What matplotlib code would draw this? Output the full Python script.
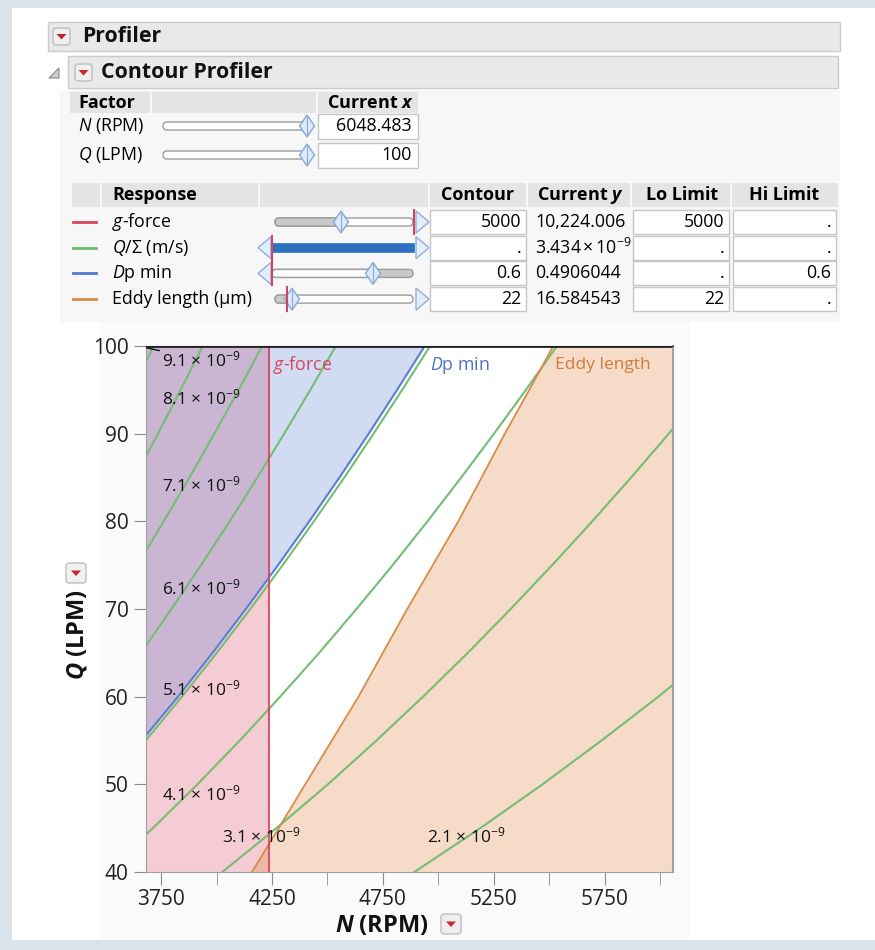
import matplotlib
matplotlib.use("Agg")
import matplotlib.pyplot as plt
from matplotlib.patches import Rectangle, Polygon, FancyBboxPatch

plt.rcParams['font.family'] = ['Open Sans', 'DejaVu Sans']
plt.rcParams['mathtext.fontset'] = 'custom'
plt.rcParams['mathtext.rm'] = 'Open Sans'
plt.rcParams['mathtext.it'] = 'Open Sans:italic'
plt.rcParams['mathtext.bf'] = 'Open Sans:bold'
plt.rcParams['mathtext.bfit'] = 'Open Sans:italic:bold'

# ---- data ----
n_range = [3682, 6058]          # N (RPM) axis range
q_range = [40, 100]             # Q (LPM) axis range
current_q = 100

# Q/Sigma contours: N position at each Q of q_grid
q_grid = [40, 45, 50, 55, 60, 65, 70, 75, 80, 85, 90, 95, 100]
qs_labels = ["2.1", "3.1", "4.1", "5.1", "6.1", "7.1", "8.1", "9.1"]
qs_n = [
    [4892, 5189, 5470, 5736, 5992, 6236, 6472, 6699, 6918, 7131, 7338, 7539, 7735],
    [4026, 4270, 4502, 4721, 4931, 5133, 5326, 5513, 5694, 5869, 6039, 6205, 6366],
    [3501, 3713, 3914, 4105, 4287, 4463, 4631, 4794, 4951, 5103, 5251, 5395, 5535],
    [3139, 3329, 3509, 3681, 3844, 4001, 4152, 4298, 4439, 4576, 4708, 4837, 4963],
    [2870, 3044, 3209, 3365, 3515, 3659, 3797, 3930, 4059, 4184, 4305, 4423, 4538],
    [2660, 2821, 2974, 3119, 3258, 3391, 3519, 3643, 3762, 3878, 3990, 4100, 4206],
    [2491, 2642, 2785, 2921, 3050, 3175, 3295, 3410, 3522, 3631, 3736, 3838, 3938],
    [2350, 2493, 2628, 2756, 2878, 2996, 3109, 3218, 3324, 3426, 3525, 3622, 3716],
]
# where each contour label sits (N, Q)
qs_label_n = [4950, 4025, 3752, 3752, 3752, 3752, 3752, 3755]
qs_label_q = [44.0, 44.0, 48.9, 60.8, 72.4, 84.1, 94.0, 98.4]

gforce_n = 4235                                          # g-force = 5000 contour
dp_n = [3124, 3313, 3492, 3663, 3826, 3982, 4132, 4277, 4418, 4554, 4686, 4814, 4939]   # Dp min = 0.6
eddy_n = [4160, 4280, 4400, 4520, 4640, 4750, 4860, 4975, 5090, 5195, 5300, 5410, 5518]  # Eddy = 22

x_major = [3750, 4250, 4750, 5250, 5750]
x_minor = [4000, 4500, 5000, 5500, 6000]
y_ticks = [40, 50, 60, 70, 80, 90, 100]

factors = [r"$\mathit{N}$ (RPM)", r"$\mathit{Q}$ (LPM)"]
factor_vals = ["6048.483", "100"]

responses = [r"$\mathit{g}$-force", r"$\mathit{Q/Σ}$ (m/s)", r"$\mathit{D}$p min", "Eddy length (µm)"]
resp_colors = ['#d6455e', '#6dbb6d', '#5577cc', '#d98a45']
resp_contour = ["5000", ".", "0.6", "22"]
resp_current = ["10,224.006", r"$3.434\,{\times}\,10^{-9}$", "0.4906044", "16.584543"]
resp_lo = ["5000", ".", ".", "22"]
resp_hi = [".", ".", "0.6", "."]

# ---- figure and UI layer (pixel coords) ----
fig = plt.figure(figsize=(8.75, 9.5), dpi=100, facecolor='#dae3ea')
ui = fig.add_axes([0, 0, 1, 1])
ui.set_xlim(0, 875)
ui.set_ylim(950, 0)
ui.axis('off')
ui.set_zorder(0)

FS = 12.8   # table text size


def box(x0, y0, x1, y1, fc, ec='none', lw=1.0):
    ui.add_patch(Rectangle((x0, y0), x1 - x0, y1 - y0, fc=fc, ec=ec, lw=lw))


def dropdown(x, y, s=17):
    ui.add_patch(FancyBboxPatch((x, y), s, s, boxstyle='round,pad=0,rounding_size=3',
                                fc='#f0f0f0', ec='#b8b8b8', lw=0.9))
    c = s / 2
    ui.add_patch(Polygon([(x + c - 5, y + c - 2.5), (x + c + 5, y + c - 2.5), (x + c, y + c + 3)],
                         closed=True, fc='#d0212f', ec='none'))


def track(x0, x1, yc, fc='white', h=8):
    ui.add_patch(FancyBboxPatch((x0, yc - h / 2), x1 - x0, h,
                                boxstyle='round,pad=0,rounding_size=%g' % (h / 2),
                                fc=fc, ec='#9c9c9c', lw=1))


def diamond(xc, yc, w=15, h=22):
    ui.add_patch(Polygon([(xc - w / 2, yc), (xc, yc - h / 2), (xc + w / 2, yc), (xc, yc + h / 2)],
                         closed=True, fc='#dce9f8', ec='#86a9d8', lw=1))
    ui.plot([xc, xc], [yc - h / 2 + 2, yc + h / 2 - 2], color='#86a9d8', lw=0.8)


def arrow(x, yc, left):
    if left:
        pts = [(x + 13, yc - 11), (x, yc), (x + 13, yc + 11)]
    else:
        pts = [(x, yc - 11), (x + 13, yc), (x, yc + 11)]
    ui.add_patch(Polygon(pts, closed=True, fc='#e3eefa', ec='#8fb0da', lw=1))


def red_tick(x, yc):
    ui.plot([x, x], [yc - 12, yc + 12], color='#d6455e', lw=1.5)


# white page and panels
box(12, 8, 875, 940, 'white')
box(60, 90, 840, 322, '#f7f7f7')
box(100, 322, 690, 940, '#fafafa')

# header bars
box(48, 22, 840, 51, '#e9e9e9', '#cbcbcb')
dropdown(53, 28)
ui.text(82, 37, "Profiler", fontsize=15.3, weight='bold', va='center', color='#111')
box(68, 56, 838, 88, '#e9e9e9', '#cbcbcb')
ui.add_patch(Polygon([(49, 78), (59, 68), (59, 78)], closed=True, fc='#cfcfcf', ec='#8a8a8a', lw=0.8))
dropdown(75, 64)
ui.text(101, 72, "Contour Profiler", fontsize=15.3, weight='bold', va='center', color='#111')

# factor table
box(70, 92, 150, 113, '#e4e4e4')
box(152, 92, 316, 113, '#e4e4e4')
box(318, 92, 418, 113, '#e4e4e4')
ui.text(78, 103, "Factor", fontsize=13, weight='bold', va='center')
ui.text(414, 103, r"Current $\mathbfit{x}$", fontsize=13, weight='bold', va='center', ha='right')
for i, (lab, val) in enumerate(zip(factors, factor_vals)):
    yc = 126 + i * 29
    ui.text(78, yc, lab, fontsize=FS, va='center')
    box(318, yc - 12.5, 418, yc + 12.5, 'white', '#c6c6c6')
    ui.text(412, yc, val, fontsize=FS, va='center', ha='right')
    track(163, 307, yc)
    diamond(307, yc)

# response table
for x0, x1 in [(72, 100), (102, 258), (260, 428), (430, 526), (528, 630), (632, 730), (732, 838)]:
    box(x0, 183, x1, 207, '#e4e4e4')
ui.text(112, 195, "Response", fontsize=13, weight='bold', va='center')
ui.text(478, 195, "Contour", fontsize=13, weight='bold', va='center', ha='center')
ui.text(580, 195, r"Current $\mathbfit{y}$", fontsize=13, weight='bold', va='center', ha='center')
ui.text(682, 195, "Lo Limit", fontsize=13, weight='bold', va='center', ha='center')
ui.text(784, 195, "Hi Limit", fontsize=13, weight='bold', va='center', ha='center')

for i in range(4):
    yc = 222 + i * 25.7
    ui.plot([73, 96], [yc, yc], color=resp_colors[i], lw=2)
    ui.text(112, yc, responses[i], fontsize=FS, va='center')
    box(430, yc - 12, 526, yc + 12, 'white', '#c6c6c6')
    ui.text(521, yc, resp_contour[i], fontsize=FS, va='center', ha='right')
    ui.text(535, yc, resp_current[i], fontsize=FS, va='center')
    box(633, yc - 12, 729, yc + 12, 'white', '#c6c6c6')
    ui.text(724, yc, resp_lo[i], fontsize=FS, va='center', ha='right')
    box(733, yc - 12, 836, yc + 12, 'white', '#c6c6c6')
    ui.text(831, yc, resp_hi[i], fontsize=FS, va='center', ha='right')

# response sliders
y0 = 222
track(275, 413, y0)
track(275, 341, y0, fc='#c9c9c9')
diamond(341, y0)
red_tick(414, y0)
arrow(416, y0, False)

y1 = 222 + 25.7
arrow(258, y1, True)
ui.add_patch(Rectangle((272, y1 - 4.5), 142, 9, fc='#2f6fbf', ec='#2f6fbf', lw=0.5))
red_tick(272, y1)
arrow(416, y1, False)

y2 = 222 + 2 * 25.7
arrow(258, y2, True)
track(272, 413, y2, fc='#c9c9c9')
track(272, 373, y2)
red_tick(272, y2)
diamond(373, y2)

y3 = 222 + 3 * 25.7
track(275, 413, y3)
track(275, 292, y3, fc='#c9c9c9')
red_tick(287, y3)
diamond(292, y3)
arrow(416, y3, False)

# axis dropdown buttons
dropdown(66, 563, s=20)
dropdown(441, 914, s=20)

# ---- contour plot ----
ax = fig.add_axes([146 / 875, 1 - 872 / 950, 527 / 875, 526 / 950])
ax.set_zorder(2)
ax.set_facecolor('white')

ax.axvspan(n_range[0], gforce_n, color='#dc4a62', alpha=0.28, lw=0)
ax.fill_betweenx(q_grid, n_range[0], dp_n, color='#5b7fd0', alpha=0.28, lw=0)
ax.fill_betweenx(q_grid, eddy_n, n_range[1], color='#e08a4a', alpha=0.30, lw=0)

for ns in qs_n:
    ax.plot(ns, q_grid, color='#74bd74', lw=1.5)
ax.plot(dp_n, q_grid, color='#5a7fd2', lw=1.5)
ax.plot(eddy_n, q_grid, color='#d98a45', lw=1.3)
ax.axvline(gforce_n, color='#d6455e', lw=1.3)
ax.axhline(current_q, color='#222', lw=2)

for k, lab in enumerate(qs_labels):
    txt = lab + r" × 10$^{-9}$"
    if lab == "9.1":
        ax.annotate(txt, xy=(n_range[0] + 2, 99.8), xytext=(qs_label_n[k], qs_label_q[k]),
                    fontsize=12.5, va='center', ha='left', color='#111',
                    arrowprops=dict(arrowstyle='-', color='#111', lw=1, shrinkA=0, shrinkB=0))
    else:
        ax.text(qs_label_n[k], qs_label_q[k], txt, fontsize=12.5, va='center', ha='left', color='#111')

ax.text(gforce_n + 20, 97.8, r"$\mathit{g}$-force", fontsize=12.8, color='#d6455e', va='center')
ax.text(4963, 97.8, r"$\mathit{D}$p min", fontsize=12.8, color='#4f71c6', va='center')
ax.text(5527, 97.8, "Eddy length", fontsize=12.5, color='#cf7d3c', va='center')

ax.set_xlim(n_range)
ax.set_ylim(q_range)
ax.set_xticks(x_major)
ax.set_xticks(x_minor, minor=True)
ax.set_yticks(y_ticks)
ax.tick_params(axis='both', which='both', direction='out', length=9, color='#8c8c8c',
               labelsize=15, labelcolor='#222')
for s in ['left', 'right', 'bottom']:
    ax.spines[s].set_color('#a0a0a0')
ax.spines['top'].set_color('#222')
ax.spines['right'].set_linewidth(1.5)

ax.set_xlabel(r"$\mathbfit{N}$ (RPM)", fontsize=17, weight='bold', color='#111')
ax.set_ylabel(r"$\mathbfit{Q}$ (LPM)", fontsize=17, weight='bold', color='#111')
ax.xaxis.set_label_coords(0.448, -0.080)
ax.yaxis.set_label_coords(-0.107, 0.452)

fig.savefig("out.png", dpi=100, facecolor=fig.get_facecolor())
